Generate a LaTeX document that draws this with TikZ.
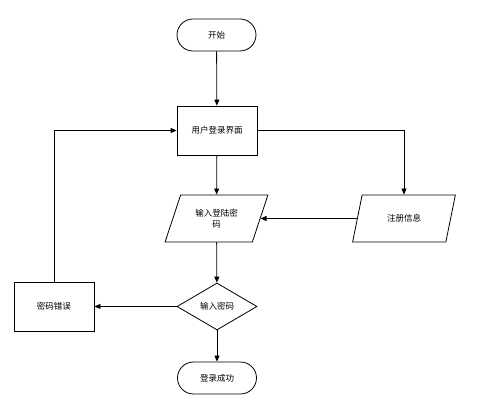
\documentclass[tikz,border=0pt]{standalone}
\usepackage{fontspec}
\newfontfamily\cjk{Noto Sans CJK SC}
\usetikzlibrary{shapes.geometric,arrows.meta}
\begin{document}
\begin{tikzpicture}[x=1pt,y=-1pt,
  every node/.style={font=\cjk\fontsize{8.5}{11}\selectfont, inner sep=0pt},
  shp/.style={draw=black, line width=0.8pt, fill=white},
  term/.style={shp, rectangle, rounded corners=16pt, minimum width=79pt, minimum height=32pt},
  procbox/.style={shp, rectangle, minimum width=80pt, minimum height=49pt},
  io/.style={shp, trapezium, trapezium left angle=64, trapezium right angle=116, trapezium stretches=true, minimum width=103pt, minimum height=47pt},
  decide/.style={shp, diamond, minimum width=80pt, minimum height=47pt, aspect=1.7},
  conn/.style={draw=black, line width=0.8pt, -{Triangle[length=6pt,width=5pt]}}
]
\path[use as bounding box] (0,0) rectangle (491,403);
\node[term] (start) at (216.5,35) {开始};
\node[procbox] (login) at (217,130.5) {用户登录界面};
\node[io, align=center] (input) at (216.5,218.5) {输入登陆密\\码};
\node[io] (reg) at (404,218.5) {注册信息};
\node[decide] (dec) at (217,306.5) {输入密码};
\node[procbox] (err) at (54,306.5) {密码错误};
\node[term] (ok) at (217,378) {登录成功};
\coordinate (c1) at (404,130.5);
\coordinate (c2) at (54,130.5);
\draw[conn] (start) -- (login);
\draw[conn] (login) -- (input);
\draw[conn] (login.east) -- (c1) -- (reg.north -| c1);
\draw[conn] (reg) -- (input);
\draw[conn] (input) -- (dec);
\draw[conn] (dec) -- (err);
\draw[conn] (err.north) -- (c2) -- (login.west);
\draw[conn] (dec) -- (ok);
\end{tikzpicture}
\end{document}
